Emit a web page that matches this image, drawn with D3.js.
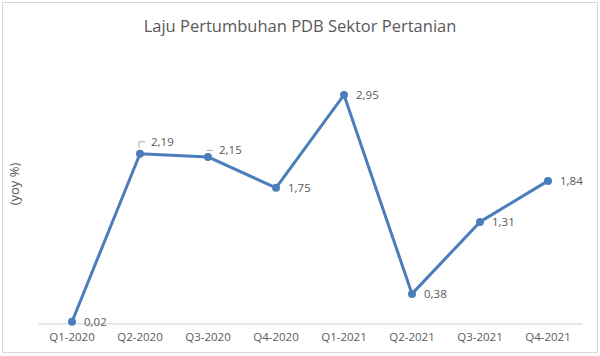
<!DOCTYPE html>
<html>
<head>
<meta charset="utf-8">
<script src="https://cdn.jsdelivr.net/npm/d3@7"></script>
<style>
  html, body { margin: 0; padding: 0; background: #fff; }
  svg { display: block; }
  text { font-family: "Open Sans", "Noto Sans", sans-serif; fill: #595959; }
</style>
</head>
<body>
<svg id="chart" width="600" height="356"></svg>
<script>
const categories = ["Q1-2020", "Q2-2020", "Q3-2020", "Q4-2020", "Q1-2021", "Q2-2021", "Q3-2021", "Q4-2021"];
const values = [0.02, 2.19, 2.15, 1.75, 2.95, 0.38, 1.31, 1.84];
const valueLabels = ["0,02", "2,19", "2,15", "1,75", "2,95", "0,38", "1,31", "1,84"];
const chartTitle = "Laju Pertumbuhan PDB Sektor Pertanian";
const yAxisTitle = "(yoy %)";

const W = 600, H = 356;
const svg = d3.select("#chart");

// outer frame
svg.append("rect")
  .attr("x", 2.5).attr("y", 2.5).attr("width", W - 5).attr("height", H - 6)
  .attr("fill", "#fff").attr("stroke", "#d9d9d9").attr("stroke-width", 1);

const x = d3.scaleBand().domain(categories).range([38, 582]).paddingInner(0).paddingOuter(0);
const y = d3.scaleLinear().domain([0, 3.5]).range([323.3, 52.4]);
const cx = c => x(c) + x.bandwidth() / 2;

// title
svg.append("text")
  .attr("x", 300).attr("y", 31.5)
  .attr("text-anchor", "middle")
  .attr("font-size", 16.5)
  .text(chartTitle);

// y axis title
svg.append("text")
  .attr("transform", "translate(19,184) rotate(-90)")
  .attr("text-anchor", "middle")
  .attr("font-size", 13)
  .text(yAxisTitle);

// x axis
const xAxis = svg.append("g")
  .attr("transform", `translate(0,${y(0)})`)
  .call(d3.axisBottom(x).tickSize(0).tickPadding(10));
xAxis.select(".domain").attr("stroke", "#d9d9d9").attr("stroke-width", 1.2);
xAxis.selectAll("text")
  .attr("font-size", 11.5)
  .attr("font-family", "'Open Sans', 'Noto Sans', sans-serif")
  .attr("fill", "#595959")
  .attr("dy", "0.71em");

const data = categories.map((c, i) => ({ c, v: values[i], label: valueLabels[i] }));

// line
const line = d3.line().x(d => cx(d.c)).y(d => y(d.v));
svg.append("path")
  .datum(data)
  .attr("fill", "none")
  .attr("stroke", "#4a7ebb")
  .attr("stroke-width", 3)
  .attr("stroke-linejoin", "round")
  .attr("d", line);

// markers
svg.selectAll("circle.pt")
  .data(data).enter().append("circle")
  .attr("class", "pt")
  .attr("cx", d => cx(d.c)).attr("cy", d => y(d.v))
  .attr("r", 4)
  .attr("fill", "#4a7ebb");

// data label layout (offsets from point)
const labelOffset = i => {
  if (i === 1) return { dx: 11, dy: -12, leader: true };
  if (i === 2) return { dx: 11, dy: -6.5, leader: true };
  return { dx: 12, dy: 0.5, leader: false };
};

data.forEach((d, i) => {
  const px = cx(d.c), py = y(d.v);
  const o = labelOffset(i);
  if (o.leader) {
    svg.append("path")
      .attr("d", `M${px - 1},${py - 6} V${py + o.dy} H${px + 5}`)
      .attr("fill", "none")
      .attr("stroke", "#a6a6a6")
      .attr("stroke-width", 1);
  }
  svg.append("text")
    .attr("x", px + o.dx).attr("y", py + o.dy)
    .attr("dy", "0.35em")
    .attr("font-size", 11.5)
    .text(d.label);
});
</script>
</body>
</html>
